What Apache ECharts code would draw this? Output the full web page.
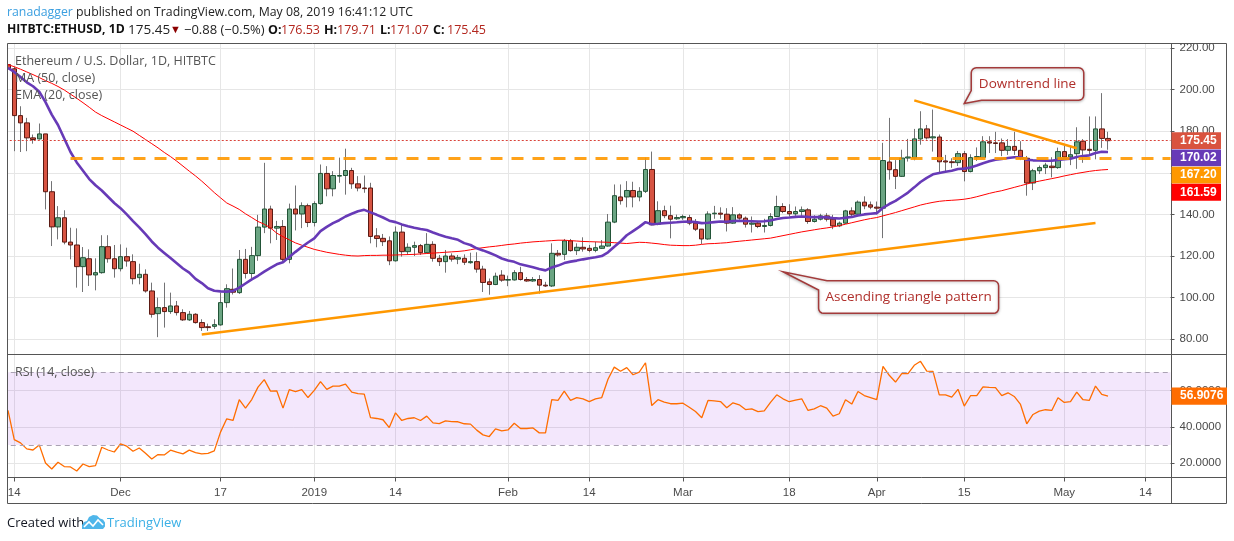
<!DOCTYPE html>
<html>
<head>
<meta charset="utf-8">
<title>ETHUSD 1D</title>
<script src="https://cdn.jsdelivr.net/npm/echarts@6.0.0/dist/echarts.min.js"></script>
<style>
  html, body { margin: 0; padding: 0; background: #fff; }
  #chart { width: 1234px; height: 541px; }
</style>
</head>
<body>
<div id="chart"></div>
<script>
// axis runs Nov 12 2018 .. May 18 2019, candles from Nov 13 to May 8
const firstDay = Date.UTC(2018, 10, 12);
const dayCount = 188;

const opens = [
  212, 210, 187.5, 184, 176.8, 176.3, 178.7, 150.9, 134, 138.4,
  126.7, 125.3, 114.9, 118.7, 110.9, 112, 124.5, 118.7, 113.9, 119.7,
  117.3, 109.6, 111.2, 103.2, 92.3, 95.2, 93.3, 96, 92.8, 89.3,
  92, 88, 86, 86.2, 86.9, 97.6, 104, 102.4, 118.4, 111.6,
  120.2, 133.9, 142.6, 133.4, 134.2, 118.4, 142.6, 140.2, 144.2, 136.1,
  145.2, 159.7, 152.3, 158.4, 158.7, 161.1, 154.7, 152.7, 152.7, 129.7,
  128.5, 127.3, 117.7, 131.5, 122.1, 124.2, 125, 121.6, 125.6, 118.9,
  117.3, 120, 118.5, 118.9, 116.8, 117.3, 113.7, 107.6, 106.3, 110.8,
  108.4, 108.5, 112, 108.7, 108, 108.7, 106, 105.6, 121.3, 120.8,
  127.3, 122.6, 124.2, 123.7, 122.7, 123.7, 124.8, 136.3, 148.4, 148.4,
  151.5, 148.4, 151.1, 161.6, 135.3, 141.8, 139.4, 137.9, 138.4, 138.5,
  135.8, 132.9, 128.2, 140.3, 140.6, 140.1, 135.8, 139.8, 138.2, 135.3,
  135.8, 134.2, 134.7, 139, 143.8, 141.4, 140.3, 141.4, 142.2, 136.6,
  137.7, 139.3, 137.7, 134.5, 135.8, 141.7, 140.1, 145.9, 144.6, 143.5,
  143, 165.2, 161.5, 158.3, 167.1, 167.1, 176.3, 181.1, 176.8, 177.2,
  165.7, 165.3, 164.9, 169.2, 160.6, 167.3, 167.3, 174.9, 174.4, 174.4,
  170.8, 172.7, 170.8, 167, 155.1, 161, 162.5, 163.2, 162.5, 170.2,
  167.6, 169.2, 175.2, 171.3, 170.8, 181.1, 176.53
];
const closes = [
  210, 187.5, 184, 176.8, 176, 178.7, 150.9, 134, 138.4, 126.7,
  125.3, 114.9, 119.2, 110.9, 112, 124.5, 118.7, 113.9, 119.7, 117.6,
  109.1, 111.2, 103.2, 92, 95.2, 93.3, 96, 92.8, 89.3, 92,
  88, 85.6, 85.6, 87, 97.6, 104.3, 102.6, 118.4, 111.6, 120.2,
  133.9, 142.6, 133.4, 134.2, 118.4, 142.6, 140.2, 144.2, 136.1, 145.2,
  159.7, 152.3, 158.7, 158.7, 161.1, 154.7, 152.7, 152.4, 129.4, 128.4,
  126.9, 117.7, 131.5, 122.1, 124.2, 125, 121.6, 125.6, 118.9, 117.3,
  120, 118.5, 119.2, 117, 117.3, 113.7, 107.3, 106.3, 110.3, 108.4,
  108.7, 112, 108.7, 108, 108.7, 106, 105.6, 121.3, 120.5, 127.3,
  122.6, 124.2, 123.4, 122.7, 124, 124.8, 136.3, 149, 146.6, 151.5,
  148.4, 151.1, 161.6, 135, 141.8, 139.4, 137.7, 138.5, 139, 135.8,
  132.9, 128.2, 140.2, 140.6, 140.1, 135.8, 139.8, 138.2, 135.3, 135.8,
  134.2, 134.7, 139, 143.8, 141.4, 140.3, 141.4, 142.2, 136.6, 137.7,
  139.3, 137.7, 134.5, 135.8, 141.7, 140.1, 145.9, 144.1, 143.5, 143,
  165.9, 161.5, 158.3, 167.1, 167.6, 176.3, 181.1, 176.8, 177.3, 165.3,
  165.2, 164.9, 169.2, 160.6, 167.3, 167.8, 174.9, 174.3, 174.1, 170.8,
  172.7, 170.8, 167, 155.1, 161, 162.5, 163.7, 162.5, 170.2, 167.6,
  168.7, 174.9, 171, 170.8, 181.1, 176.53, 175.45
];
const lows = [
  208, 170.4, 170, 170.4, 174, 176, 142.4, 124.8, 128, 125.6,
  118.4, 104.8, 102.7, 105.6, 103.5, 111.5, 116.8, 109.6, 112.6, 114.9,
  106.4, 106.4, 102.4, 90.4, 81, 85.6, 92.2, 91.4, 88.8, 88.8,
  87.5, 84, 84, 85, 86.5, 95.2, 101.5, 101.8, 109.2, 109.2,
  117.7, 131, 126.1, 127.7, 117.3, 116.5, 132.3, 133.4, 133.9, 134.2,
  144.7, 148.7, 148.7, 155.2, 149.5, 152.3, 151.1, 150.4, 126.1, 124.2,
  124.8, 115.6, 117.3, 119.7, 120.5, 120, 120.5, 121.3, 117.3, 115.2,
  112, 117.3, 116.1, 115.7, 116.3, 112, 102.7, 101.4, 106, 107.6,
  105.5, 108.2, 108.2, 107.6, 107.6, 101.9, 105.1, 105.1, 119.7, 118.1,
  122.1, 120.5, 122.1, 121.8, 121.8, 123.4, 124.5, 135.8, 144.7, 143.4,
  143.4, 146.3, 150.3, 134.8, 134.8, 138.2, 128.5, 137.4, 137.4, 134.8,
  132, 125.8, 127.8, 137.9, 137.9, 131.8, 135.5, 137.4, 133.7, 131.3,
  133.4, 131.3, 134.2, 139, 140.6, 139, 139.3, 139.3, 135.5, 136.1,
  137.1, 136.6, 132.9, 133.9, 135.5, 139, 139.8, 142.5, 142.5, 140,
  128.6, 156.7, 152.2, 158, 165.4, 166, 173.5, 176, 170.2, 160.1,
  160, 162.4, 163.3, 155.9, 160.2, 165.7, 167, 169.5, 169.5, 168,
  168.6, 168.6, 166.1, 149, 151.7, 159.4, 159.4, 157.8, 161.9, 166.5,
  163.7, 161.9, 164.8, 168.6, 166.5, 172, 171.07
];
const highs = [
  213.5, 211, 192, 186.4, 178.4, 183.7, 178.7, 156, 144, 142,
  133.6, 133.3, 124.3, 123.2, 118.9, 130, 130, 125.3, 125.6, 124,
  120.8, 116.3, 113.6, 107.2, 100, 107.2, 102.4, 98.4, 94.4, 93.6,
  92.5, 89.6, 87.5, 89.6, 102.4, 106.4, 114, 122.9, 123.4, 124.4,
  139.8, 164.8, 144.2, 136.9, 137.3, 145.2, 153.9, 145.8, 145.2, 146.3,
  164, 163.2, 160.8, 167.3, 171.6, 162.4, 158.4, 158.7, 155.2, 133.4,
  130.6, 129.4, 134.2, 135.5, 126.1, 126.9, 125.8, 131, 127.1, 120.5,
  122.9, 121.3, 120.5, 120.8, 121.6, 121.8, 115.3, 109.2, 112, 113.2,
  110.6, 113.2, 114.8, 109.9, 109.9, 110.8, 107.6, 126.1, 122.9, 128.2,
  128.2, 126.1, 129, 125.3, 126.9, 127.7, 140.2, 154.4, 154.4, 156,
  155.7, 153.1, 167.3, 170.2, 146.3, 144.2, 144.2, 139.9, 139.9, 139.8,
  137.8, 133, 141.5, 144.1, 143.4, 143, 143.5, 140.5, 139, 139,
  136.6, 137.9, 140.6, 149, 145.4, 144.9, 143.8, 143.8, 143, 139.6,
  140.3, 140.6, 139.8, 136.6, 142.2, 143.4, 146.7, 148.7, 146.2, 146.2,
  174.4, 186.4, 166.1, 171.1, 176.3, 181.1, 189.6, 183, 190.4, 178.4,
  168.6, 167, 170.5, 170.5, 168.9, 172.2, 177.6, 177.6, 179.7, 176.5,
  176.2, 179.7, 175.2, 168.1, 161.9, 163.5, 164.8, 167.5, 172.1, 172.9,
  172.5, 181.9, 176.2, 187.1, 187.1, 198.3, 179.71
];
const ema20 = [
  210.4, 208.5, 206, 203.5, 201.6, 199, 194, 188, 183, 176.5,
  170, 165, 161, 157, 154, 151.5, 148.5, 145.5, 143, 140,
  136.8, 133.8, 130.5, 127, 124, 121.5, 119, 116.5, 114, 112,
  109, 107, 104.5, 103.3, 103, 102.9, 103.2, 104.8, 106.8, 108.8,
  110.5, 112.5, 114.3, 116, 117, 119.5, 122, 124.3, 126.5, 128.5,
  132, 134, 135.8, 137.2, 139, 140.3, 141.5, 142.2, 141, 139.8,
  138.5, 137, 136.3, 135.2, 134.3, 133.6, 133, 132.5, 131.3, 130.2,
  129.3, 128.5, 127.8, 126.2, 125.3, 123.7, 122.7, 121.6, 120.3, 118.8,
  117.8, 117.2, 116, 115.3, 114.6, 113.8, 113.1, 114.5, 115.4, 116.6,
  117.3, 117.8, 118.4, 118.9, 119.4, 120, 121.8, 124.5, 127, 130,
  132, 134, 136.3, 135.3, 135.5, 135.8, 136, 136.2, 136.5, 136.6,
  136.3, 135.8, 136, 136.3, 136.6, 136.5, 136.8, 136.9, 136.8, 136.7,
  136.6, 136.7, 137.1, 137.8, 138.3, 138.5, 138.8, 139, 138.8, 138.7,
  138.7, 138.6, 138.2, 138, 138.4, 138.8, 139.5, 140, 140.3, 140.6,
  143.2, 145, 146.5, 148.5, 150.5, 153, 155.6, 157.6, 159.3, 159.9,
  160.5, 161, 161.8, 162, 162.6, 163.5, 164.6, 165.5, 166.3, 166.6,
  167.1, 167.5, 167.5, 166.3, 166, 165.9, 165.8, 165.8, 166.2, 166.5,
  166.8, 167.6, 168.1, 168.4, 169.5, 170.1, 170.02
];
const ma50 = [
  212, 211, 209.8, 208.5, 207.2, 205.8, 204.3, 203, 201.5, 199.8,
  197.8, 195.8, 193.7, 191.5, 189.2, 187.5, 186, 184.5, 183, 181.5,
  180, 178, 176, 174, 172, 169.8, 167.8, 165.6, 163.2, 160.8,
  158.5, 156, 153.3, 150.5, 148, 145.5, 144, 142.4, 140.3, 138.5,
  136.6, 135.3, 133.5, 131, 129.3, 127.8, 126.3, 125.2, 124.2, 123.2,
  122.5, 121.8, 121.3, 120.8, 120.4, 120.1, 120, 120.2, 120.3, 120.3,
  120.4, 120.4, 120.5, 120.6, 120.7, 120.8, 121, 121.2, 121.4, 121.6,
  121.8, 122, 122.2, 122.5, 123, 123.6, 124, 124.4, 124.7, 125.1,
  125.5, 125.8, 126.2, 126.5, 126.8, 127, 127.2, 127.4, 127.6, 127.6,
  127.4, 127.2, 127, 126.9, 126.8, 126.7, 126.6, 126.4, 126.2, 126,
  126.3, 126.6, 126.5, 126.2, 125.9, 125.5, 125.2, 125.1, 125, 125,
  125.2, 125.6, 125.9, 126, 126.2, 126.4, 126.8, 127.1, 127.4, 127.7,
  128, 128.3, 128.6, 129.2, 129.8, 130.4, 131, 131.6, 132.1, 132.6,
  133.1, 133.5, 134, 134.6, 135.3, 136, 136.7, 137.4, 138, 138.5,
  139.3, 140.1, 140.9, 141.8, 142.7, 143.6, 144.5, 145.2, 145.8, 146.3,
  146.6, 146.8, 147, 147.3, 147.8, 148.5, 149.3, 150.1, 150.8, 151.4,
  152.2, 153, 153.8, 154.6, 155.4, 156, 156.6, 157.2, 157.8, 158.5,
  159.1, 159.7, 160.2, 160.7, 161.1, 161.4, 161.59
];
const rsi14 = [
  49, 33, 31.2, 27.9, 27.3, 30.1, 20.2, 16.9, 20.6, 18.2,
  18, 15.8, 19.6, 18.2, 18.7, 28.8, 27.3, 26.2, 30.6, 29.4,
  26.6, 28.4, 25.5, 22.4, 24.8, 24.6, 27.2, 26.1, 25.2, 27.2,
  25.9, 25.2, 25.5, 26.8, 37.1, 44.4, 43.5, 54.9, 50.3, 55,
  61.8, 65.9, 59.6, 59.8, 50.3, 60.4, 59.4, 60.4, 56.1, 60,
  64.8, 60.6, 62.4, 62.4, 63.5, 59.1, 58.2, 58, 45.1, 44.6,
  43.9, 39.6, 47.7, 43.5, 44.6, 45, 43.5, 45.9, 42.2, 41.8,
  43.3, 42.9, 42.8, 41.7, 41.5, 38.2, 35.6, 34.7, 38.9, 37.8,
  38.3, 42, 39.1, 39.1, 39.4, 36.7, 36.7, 54.9, 54.5, 59.6,
  54.5, 56, 55.4, 53.9, 55.4, 56.1, 66.1, 72.8, 70.5, 72.5,
  68.6, 70.1, 75.2, 51.7, 54.9, 53.6, 52.7, 52.7, 53, 50.8,
  48.4, 45, 54.5, 54.3, 53.9, 50.5, 53.2, 52.1, 49.5, 49.9,
  48.4, 48.8, 53.4, 57.6, 55.4, 53.8, 54.7, 55.4, 49, 49.9,
  51.6, 50.3, 45.9, 47.2, 54.9, 52.5, 59.4, 57.2, 56.1, 54.9,
  73.2, 68.3, 64.6, 69.2, 69.2, 73.8, 76, 70.6, 70.5, 57.6,
  57.6, 56.3, 60.6, 51.4, 57.1, 57.1, 62, 61.7, 61.5, 57.1,
  58.7, 56.7, 52.3, 41.7, 46.8, 48.6, 49.4, 49, 56, 53.4,
  53.9, 59.1, 54.9, 54.5, 62.4, 57.8, 56.9076
];

const tickDates = ['2018-11-14', '2018-12-01', '2018-12-17', '2019-01-01', '2019-01-14', '2019-02-01',
  '2019-02-14', '2019-03-01', '2019-03-18', '2019-04-01', '2019-04-15', '2019-05-01', '2019-05-14'];
const tickText = ['14', 'Dec', '17', '2019', '14', 'Feb', '14', 'Mar', '18', 'Apr', '15', 'May', '14'];

// drawings on the price pane: [day, price]
const resistance = [['2018-11-23', 167.2], ['2019-05-18', 167.2]];
const ascending = [['2018-12-14', 82.3], ['2019-05-06', 135.9]];
const downtrend = [['2019-04-07', 194.8], ['2019-05-03', 171.8]];
const lastClose = 175.45;
const tagValues = [175.45, 170.02, 167.20, 161.59];
const tagColors = ['#d9533f', '#673ab7', '#ff9800', '#ff0000'];

const days = [];
for (let i = 0; i < dayCount; i++) {
  days.push(new Date(firstDay + i * 86400000).toISOString().slice(0, 10));
}
const isTick = (idx, value) => tickDates.indexOf(value) >= 0;

const wickData = ['-'].concat(opens.map((o, i) => [o, closes[i], lows[i], highs[i]]));
const bodyData = ['-'].concat(opens.map((o, i) => [o, closes[i], Math.min(o, closes[i]), Math.max(o, closes[i])]));
const pad = arr => ['-'].concat(arr);

const uiFont = '"Open Sans", "Noto Sans", sans-serif';
const axisFont = '"Liberation Sans", Arial, sans-serif';
const gridColor = '#e6e6e6';

const chart = echarts.init(document.getElementById('chart'));

const xBase = {
  type: 'category',
  data: days,
  boundaryGap: false,
  axisLine: { show: false },
  splitLine: { show: true, interval: isTick, lineStyle: { color: gridColor } }
};

chart.setOption({
  animation: false,
  grid: [
    { left: 1.75, top: 43, width: 1168.75, height: 311 },
    { left: 1.75, top: 354, width: 1168.75, height: 123.5 }
  ],
  xAxis: [
    Object.assign({ gridIndex: 0, axisTick: { show: false }, axisLabel: { show: false } }, xBase),
    Object.assign({
      gridIndex: 1,
      axisTick: { show: true, interval: isTick, length: 4, lineStyle: { color: '#555' } },
      axisLabel: {
        show: true, interval: isTick, margin: 9,
        color: '#4a4a4a', fontFamily: axisFont, fontSize: 11.5,
        formatter: v => tickText[tickDates.indexOf(v)]
      }
    }, xBase)
  ],
  yAxis: [
    {
      gridIndex: 0, type: 'value', position: 'right', min: 72.9, max: 222.4, splitNumber: 7,
      axisLine: { show: false },
      axisTick: { show: true, length: 4, lineStyle: { color: '#555' } },
      axisLabel: { margin: 9, color: '#4a4a4a', fontFamily: axisFont, fontSize: 11.5,
        showMinLabel: false, showMaxLabel: false, formatter: v => v.toFixed(2) },
      splitLine: { lineStyle: { color: gridColor } }
    },
    {
      gridIndex: 1, type: 'value', position: 'right', min: 12.2, max: 80, splitNumber: 3,
      axisLine: { show: false },
      axisTick: { show: true, length: 4, lineStyle: { color: '#555' } },
      axisLabel: { margin: 9, color: '#4a4a4a', fontFamily: axisFont, fontSize: 11.5,
        showMinLabel: false, showMaxLabel: false, formatter: v => v.toFixed(4) },
      splitLine: { lineStyle: { color: gridColor } }
    }
  ],
  series: [
    {
      name: 'wicks', type: 'candlestick', xAxisIndex: 0, yAxisIndex: 0,
      data: wickData, barWidth: 1, silent: true,
      itemStyle: { color: '#737375', color0: '#737375', borderColor: '#737375', borderColor0: '#737375', borderWidth: 1 }
    },
    {
      name: 'MA (50, close)', type: 'line', xAxisIndex: 0, yAxisIndex: 0,
      data: pad(ma50), showSymbol: false, silent: true,
      lineStyle: { color: '#ff0000', width: 1 }
    },
    {
      name: 'EMA (20, close)', type: 'line', xAxisIndex: 0, yAxisIndex: 0,
      data: pad(ema20), showSymbol: false, silent: true,
      lineStyle: { color: '#673ab7', width: 2.6 }
    },
    {
      name: 'ETHUSD', type: 'candlestick', xAxisIndex: 0, yAxisIndex: 0,
      data: bodyData, barWidth: 5, silent: true,
      itemStyle: { color: '#6ba583', color0: '#d75442', borderColor: '#225437', borderColor0: '#5b1a13', borderWidth: 1 },
      markLine: {
        silent: true, symbol: ['none', 'none'], label: { show: false }, animation: false,
        data: [
          { yAxis: lastClose, lineStyle: { color: '#d9433a', type: [2, 2], width: 1 } },
          [{ coord: resistance[0] }, { coord: resistance[1], lineStyle: { color: '#ff9800', type: [12, 9], width: 3, opacity: 0.9 } }],
          [{ coord: ascending[0] }, { coord: ascending[1], lineStyle: { color: '#ff9800', type: 'solid', width: 2.5 } }],
          [{ coord: downtrend[0] }, { coord: downtrend[1], lineStyle: { color: '#ff9800', type: 'solid', width: 2.5 } }]
        ]
      }
    },
    {
      name: 'RSI (14, close)', type: 'line', xAxisIndex: 1, yAxisIndex: 1,
      data: pad(rsi14), showSymbol: false, silent: true,
      lineStyle: { color: '#ff6d00', width: 1.3 },
      markArea: {
        silent: true,
        itemStyle: { color: 'rgba(150, 40, 230, 0.11)' },
        data: [[{ yAxis: 30 }, { yAxis: 70 }]]
      },
      markLine: {
        silent: true, symbol: ['none', 'none'], label: { show: false },
        lineStyle: { color: '#aaa2b3', type: [5, 4], width: 1 },
        data: [{ yAxis: 30 }, { yAxis: 70 }]
      }
    }
  ]
});

// overlay: frame, texts, value tags, callouts
const g = [];
const text = (x, y, str, opts) => g.push({
  type: 'text', x: x, y: y, z: 120,
  style: Object.assign({ text: str, fill: '#333', font: '12px ' + uiFont, textVerticalAlign: 'middle', verticalAlign: 'middle' }, opts || {})
});

g.push({ type: 'rect', z: 90, shape: { x: 0, y: 43, width: 7, height: 435 }, style: { fill: '#fff' } });
const frameLine = (x1, y1, x2, y2) => g.push({ type: 'line', z: 100, shape: { x1: x1, y1: y1, x2: x2, y2: y2 }, style: { stroke: '#555', lineWidth: 1 } });
g.push({ type: 'rect', z: 100, shape: { x: 7.5, y: 43.5, width: 1219, height: 460 }, style: { fill: 'none', stroke: '#555', lineWidth: 1 } });
frameLine(1171.5, 43.5, 1171.5, 503.5);
frameLine(7.5, 354.5, 1226.5, 354.5);
frameLine(7.5, 477.5, 1226.5, 477.5);

// header
text(7, 12, '{u|ranadagger}{p| published on TradingView.com, May 08, 2019 16:41:12 UTC}', {
  rich: {
    u: { fill: '#3b9fe0', fontFamily: uiFont, fontSize: 12.3 },
    p: { fill: '#222', fontFamily: uiFont, fontSize: 12.3 }
  }
});
const hBold = { fill: '#111', font: 'bold 12.5px ' + uiFont };
const hRed = { fill: '#b3261e', font: '12.5px ' + uiFont };
text(7, 30, 'HITBTC:ETHUSD, 1D', { fill: '#111', font: 'bold 12.2px ' + uiFont });
text(128, 30, '175.45', { fill: '#222', font: '13.5px ' + uiFont });
text(170, 30, '▼', { fill: '#8b0000', font: '11px ' + axisFont });
text(184, 30, '−0.88 (−0.5%)', { fill: '#222', font: '13px ' + uiFont });
text(268, 30, 'O:', hBold);
text(281, 30, '176.53', hRed);
text(324, 30, 'H:', hBold);
text(337, 30, '179.71', hRed);
text(380, 30, 'L:', hBold);
text(390, 30, '171.07', hRed);
text(433, 30, 'C:', hBold);
text(447, 30, '175.45', hRed);

// pane legends
const legendStyle = { fill: '#555', font: '12.5px ' + uiFont };
text(15, 61, 'Ethereum / U.S. Dollar, 1D, HITBTC', legendStyle);
text(15, 78, 'MA (50, close)', legendStyle);
text(15, 95, 'EMA (20, close)', legendStyle);
text(15, 372, 'RSI (14, close)', legendStyle);

// footer
text(7, 523, 'Created with', { fill: '#131722', font: '13px ' + uiFont });
g.push({
  type: 'polygon', z: 120,
  shape: { points: [[82, 529], [82, 525], [84, 522], [87, 521], [89, 517], [93, 515], [97, 515.5], [100, 518.5], [103, 519.5], [105, 522.5], [105, 526.5], [103, 529]] },
  style: { fill: '#4fb6ea' }
});
g.push({
  type: 'polyline', z: 121,
  shape: { points: [[84, 527], [89, 522], [93, 526], [98, 520], [103, 525]] },
  style: { stroke: '#fff', lineWidth: 1.6, fill: 'none' }
});
text(107, 523, 'TradingView', { fill: '#3bb0e6', font: '13px ' + uiFont });

// price tags on the right scale, stacked downward
const tagY = chart.convertToPixel({ yAxisIndex: 0 }, tagValues[0]);
tagValues.forEach((v, i) => {
  const cy = tagY + i * 17.2;
  g.push({ type: 'rect', z: 110, shape: { x: 1171.5, y: cy - 8.4, width: 49.5, height: 16.8 }, style: { fill: tagColors[i] } });
  text(1180, cy, v.toFixed(2), { fill: '#fff', font: 'bold 12px ' + axisFont });
});
const rsiLast = rsi14[rsi14.length - 1];
const rsiY = chart.convertToPixel({ yAxisIndex: 1 }, rsiLast);
g.push({ type: 'rect', z: 110, shape: { x: 1171.5, y: rsiY - 8.6, width: 55.5, height: 17.2 }, style: { fill: '#ff6d00' } });
text(1180, rsiY, rsiLast.toFixed(4), { fill: '#fff', font: 'bold 12px ' + axisFont });

// callouts: rounded box with a pointed tail, anchored at the tail tip
function arc(cx, cy, rad, a0, a1) {
  const pts = [];
  for (let k = 0; k <= 4; k++) {
    const a = (a0 + (a1 - a0) * k / 4) * Math.PI / 180;
    pts.push([cx + rad * Math.cos(a), cy + rad * Math.sin(a)]);
  }
  return pts;
}
const calloutStyle = { fill: '#fff', stroke: '#a33b3b', lineWidth: 1.5, shadowBlur: 3, shadowColor: 'rgba(0,0,0,0.25)', shadowOffsetY: 1 };
const rr = 5;

const tipA = chart.convertToPixel({ gridIndex: 0 }, ['2019-04-15', 193.3]);
{
  const ax = tipA[0], ay = tipA[1];
  const l = ax + 7, rgt = ax + 119.5, t = ay - 35.7, btm = ay - 3.3;
  const pts = [[l + rr, t]]
    .concat(arc(rgt - rr, t + rr, rr, -90, 0))
    .concat(arc(rgt - rr, btm - rr, rr, 0, 90))
    .concat([[ax + 17.3, btm], [ax, ay], [l, ay - 13]])
    .concat(arc(l + rr, t + rr, rr, 180, 270));
  g.push({ type: 'polygon', z: 115, shape: { points: pts }, style: calloutStyle });
  text((l + rgt) / 2, (t + btm) / 2, 'Downtrend line', { fill: '#b0302c', font: '13.5px ' + uiFont, textAlign: 'center', align: 'center' });
}

const tipB = chart.convertToPixel({ gridIndex: 0 }, ['2019-03-17', 112.45]);
{
  const bx = tipB[0], by = tipB[1];
  const l = bx + 35.6, rgt = bx + 215.6, t = by + 9, btm = by + 41.6;
  const pts = [[bx + 44, t]]
    .concat(arc(rgt - rr, t + rr, rr, -90, 0))
    .concat(arc(rgt - rr, btm - rr, rr, 0, 90))
    .concat(arc(l + rr, btm - rr, rr, 90, 180))
    .concat([[l, by + 18.3], [bx, by]]);
  g.push({ type: 'polygon', z: 115, shape: { points: pts }, style: calloutStyle });
  text((l + rgt) / 2, (t + btm) / 2, 'Ascending triangle pattern', { fill: '#b0302c', font: '13.5px ' + uiFont, textAlign: 'center', align: 'center' });
}

chart.setOption({ graphic: g });
</script>
</body>
</html>
